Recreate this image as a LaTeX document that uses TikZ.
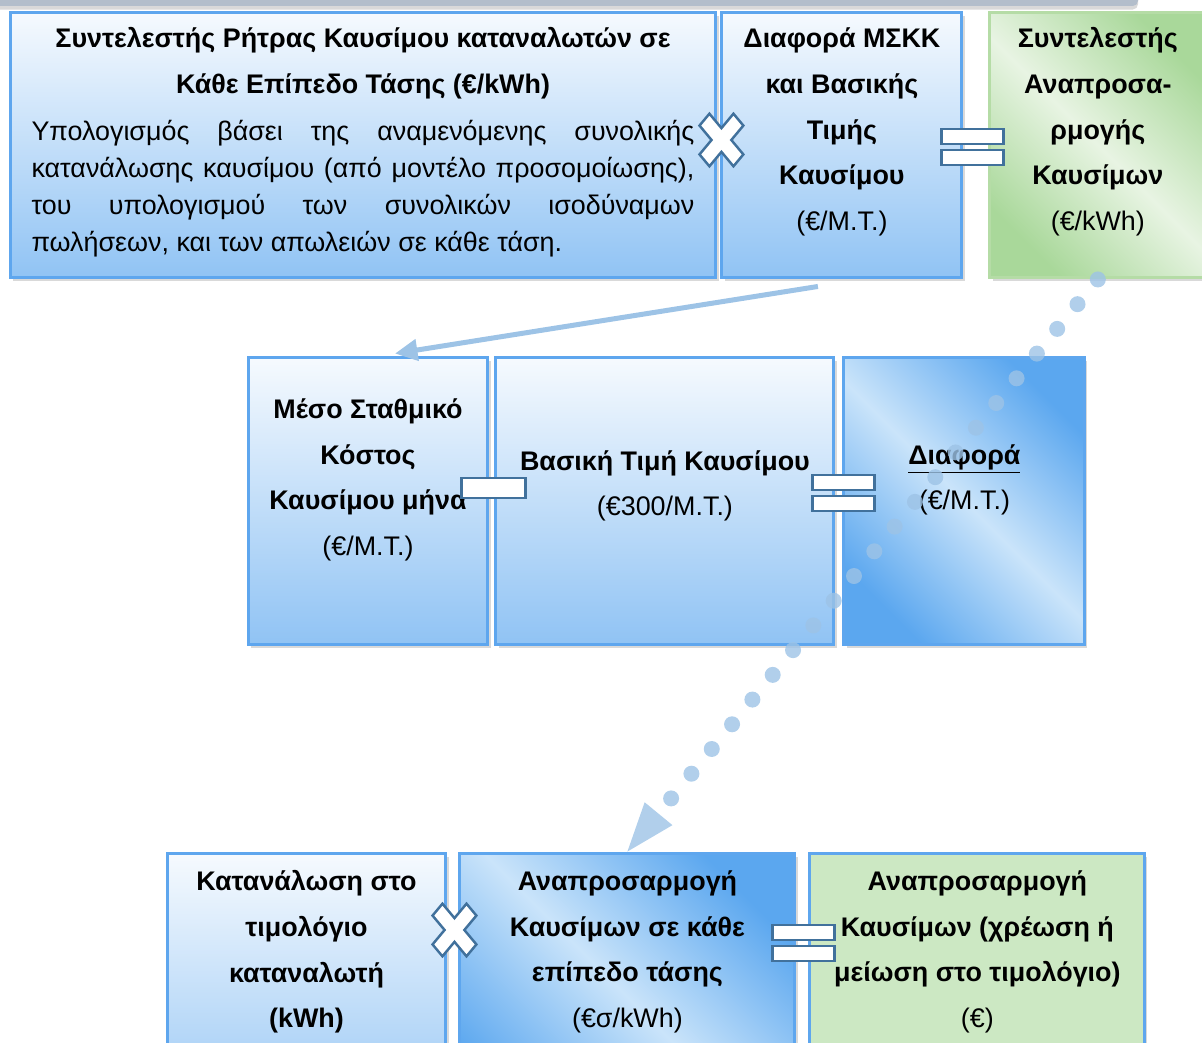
\documentclass[tikz,border=0pt]{standalone}
\usepackage{fontspec}
\setmainfont{Liberation Sans}
\usetikzlibrary{arrows.meta,positioning,calc,shadows}
\definecolor{Edge}{HTML}{5EA6EE}
\definecolor{SkyTop}{HTML}{F6FAFE}
\definecolor{Sky}{HTML}{90C3F4}
\definecolor{Deep}{HTML}{5BA7EF}
\definecolor{Pale}{HTML}{CAE4FA}
\definecolor{Leaf}{HTML}{A9D89A}
\definecolor{LeafPale}{HTML}{E8F4E3}
\definecolor{LeafFlat}{HTML}{CCE8C3}
\definecolor{LeafEdge}{HTML}{B5DCA6}
\definecolor{Sign}{HTML}{41719C}
\definecolor{Link}{HTML}{9DC3E6}
\definecolor{Bar}{HTML}{B3BECB}

\begin{document}
\begin{tikzpicture}[x=0.02cm,y=-0.02cm,>=Stealth,
    card/.style={draw=Edge,line width=1.7pt,minimum height=5.76cm,inner sep=0pt,
      drop shadow={shadow xshift=1.5pt,shadow yshift=-2pt,opacity=0.3}},
    vgrad/.style={card,top color=SkyTop,bottom color=Sky},
    dgrad/.style={card,top color=Deep,bottom color=Deep,middle color=Pale,shading angle=-45},
    ggrad/.style={card,draw=LeafEdge,top color=Leaf,bottom color=Leaf,middle color=LeafPale,shading angle=-45},
    txt/.style={align=center,inner sep=0pt,font=\fontsize{15.3pt}{26pt}\selectfont},
    head/.style={txt,font=\bfseries\fontsize{15.3pt}{26pt}\selectfont},
    para/.style={text width=13.26cm,align=justify,inner sep=0pt,font=\fontsize{15.3pt}{21pt}\selectfont},
    sign/.style={draw=Sign,fill=white,line width=1.4pt,line join=miter},
    pics/timessign/.style={code={\draw[sign,yscale=1.2,rotate=45] (7,7)--(7,24)--(-7,24)--(-7,7)--(-24,7)--(-24,-7)--(-7,-7)--(-7,-24)--(7,-24)--(7,-7)--(24,-7)--(24,7)--cycle;}},
    pics/equalsign/.style={code={\draw[sign] (-31,-18) rectangle (31,-3) (-31,3) rectangle (31,18);}},
    pics/minussign/.style={code={\draw[sign] (-32,-10) rectangle (32,10);}},
    link/.style={Link,line width=0.1cm,-{Triangle[length=0.45cm,width=0.42cm]}},
    dots/.style={Link,opacity=0.8,line width=0.32cm,line cap=round,dash pattern=on 0pt off 0.64cm,
      -{Triangle[length=0.98cm,width=0.72cm,line width=0pt]}}]
  \clip (0,0) rectangle (1202,1043);
  \fill[Bar,rounded corners=3pt,drop shadow={shadow xshift=0pt,shadow yshift=-2pt,opacity=0.3}] (-10,-20) rectangle (1138,6);

  % top row
  \node[vgrad,minimum width=14.12cm,minimum height=5.32cm] (A) at (363,145) {};
  \node[vgrad,minimum width=4.8cm,minimum height=5.32cm,right=0.06cm of A] (B) {};
  \node[ggrad,minimum width=4.32cm,minimum height=5.32cm,right=0.5cm of B] (C) {};
  \node[head] (Ahead) at ($(A.center)+(0,-82)$) {Συντελεστής Ρήτρας Καυσίμου καταναλωτών σε\\Κάθε Επίπεδο Τάσης (€/kWh)};
  \node[para] (Abody) at ($(A.center)+(0,44)$) {Υπολογισμός βάσει της αναμενόμενης συνολικής\linebreak
    κατανάλωσης καυσίμου (από μοντέλο προσομοίωσης),\linebreak
    του υπολογισμού των συνολικών ισοδύναμων\linebreak
    πωλήσεων, και των απωλειών σε κάθε τάση.};
  \node[txt] (Btext) at ($(B.center)+(0,-13)$) {\textbf{Διαφορά ΜΣΚΚ}\\\textbf{και Βασικής}\\\textbf{Τιμής}\\\textbf{Καυσίμου}\\(€/Μ.Τ.)};
  \node[txt] (Ctext) at ($(C.center)+(0,-13)$) {\textbf{Συντελεστής}\\\textbf{Αναπροσα-}\\\textbf{ρμογής}\\\textbf{Καυσίμων}\\(€/kWh)};
  \pic at ($(A.east)+(4,-5)$) {timessign};
  \pic at ($(B.east)+(9,2)$) {equalsign};

  % middle row
  \node[vgrad,minimum width=4.8cm] (D) at (368,501) {};
  \node[vgrad,minimum width=6.76cm,right=0.1cm of D] (E) {};
  \node[dgrad,minimum width=4.82cm,right=0.14cm of E] (F) {};
  \node[txt] (Dtext) at ($(D.center)+(0,-21)$) {\textbf{Μέσο Σταθμικό}\\\textbf{Κόστος}\\\textbf{Καυσίμου μήνα}\\(€/Μ.Τ.)};
  \node[txt] (Etext) at ($(E.center)+(0,-15)$) {\textbf{Βασική Τιμή Καυσίμου}\\(€300/Μ.Τ.)};
  \node[txt] (Ftext) at ($(F.center)+(0,-21)$) {\textbf{\underline{Διαφορά}}\\(€/Μ.Τ.)};
  \pic at ($(D.east)+(4,-13)$) {minussign};
  \pic at ($(E.east)+(8,-8)$) {equalsign};
  \draw[link] ($(B.south)+(-24,7)$) -- ($(D.north)+(27,-2)$);

  % bottom row
  \node[vgrad,minimum width=5.58cm] (G) at (306.5,997) {};
  \node[dgrad,minimum width=6.7cm,right=0.22cm of G] (H) {};
  \node[card,fill=LeafFlat,minimum width=6.7cm,right=0.24cm of H] (I) {};
  \node[txt] (Gtext) at ($(G.center)+(0,-45)$) {\textbf{Κατανάλωση στο}\\\textbf{τιμολόγιο}\\\textbf{καταναλωτή}\\\textbf{(kWh)}};
  \node[txt] (Htext) at ($(H.center)+(0,-45)$) {\textbf{Αναπροσαρμογή}\\\textbf{Καυσίμων σε κάθε}\\\textbf{επίπεδο τάσης}\\(€σ/kWh)};
  \node[txt] (Itext) at ($(I.center)+(0,-45)$) {\textbf{Αναπροσαρμογή}\\\textbf{Καυσίμων (χρέωση ή}\\\textbf{μείωση στο τιμολόγιο)}\\(€)};
  \pic at ($(G.east)+(7,-67)$) {timessign};
  \pic at ($(H.east)+(7,-54)$) {equalsign};

  \draw[dots] (C.south) -- (H.north);
\end{tikzpicture}
\end{document}
